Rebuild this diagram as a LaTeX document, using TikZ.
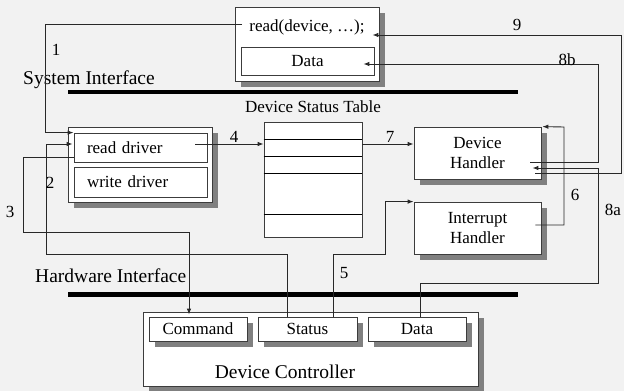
\documentclass[tikz,border=0pt]{standalone}
\usepackage{fontspec}
\setmainfont{Liberation Serif}
\usetikzlibrary{calc,scopes,shadows,arrows.meta}

\definecolor{paper}{RGB}{242,242,242}
\definecolor{edge}{RGB}{60,60,60}
\definecolor{wire}{RGB}{40,40,40}
\definecolor{shade}{RGB}{128,128,128}

\begin{document}
\begin{tikzpicture}[x=1pt,y=-1pt,
  box/.style={rectangle,draw=edge,fill=white,line width=0.8pt,inner sep=0pt,
    font=\fontsize{17}{20}\selectfont,align=center},
  shd/.style={drop shadow={shadow xshift=6pt,shadow yshift=-6pt,fill=shade,opacity=1}},
  txt/.style={font=\fontsize{17}{20}\selectfont,inner sep=0pt},
  big/.style={font=\fontsize{19.5}{22}\selectfont,inner sep=0pt},
  flow/.style={draw=wire,line width=0.9pt,>={Latex[length=6pt,width=4.5pt]}},
  bus/.style={line width=4.5pt}]
    \useasboundingbox (0,0) rectangle (624,391);
    \fill[paper] (0,0) rectangle (624,391);

    % user process
    \node[box,shd,minimum width=144pt,minimum height=74pt] (readcall) at (307,44) {};
    \node[txt] (readtxt) at (307,27) {read(device, …);};
    \node[box,minimum width=133pt,minimum height=28pt] (userdata) at (307.5,61) {Data};

    % interfaces
    \node[big,anchor=west] (sysif) at (23,80) {System Interface};
    \draw[bus] (68,92) -- (518,92);
    \node[big,anchor=west] (hwif) at (35,276) {Hardware Interface};
    \draw[bus] (68,294.5) -- (518,294.5);

    % drivers
    \node[box,shd,minimum width=144pt,minimum height=75pt] (drivers) at (140,164.5) {};
    \node[box,minimum width=133pt,minimum height=29pt,text width=107pt,align=left] (readdrv) at (140.5,147.5) {read driver};
    \node[box,minimum width=133pt,minimum height=30pt,text width=107pt,align=left] (writedrv) at (140.5,182) {write driver};

    % status table
    \node[txt] (tablelbl) at (313,107) {Device Status Table};
    \node[box,minimum width=98pt,minimum height=115pt] (table) at (313,179.5) {};
    \foreach \ty in {139,156,173,214}
        \draw[line width=0.9pt] (table.west |- 0,\ty) -- (table.east |- 0,\ty);

    % handlers
    \node[box,shd,minimum width=127pt,minimum height=52pt] (devhandler) at (477.5,153) {Device\\Handler};
    \node[box,shd,minimum width=127pt,minimum height=52pt] (inthandler) at (477.5,228) {Interrupt\\Handler};

    % controller
    \node[box,shd,minimum width=335pt,minimum height=74pt] (controller) at (310.5,349) {};
    \node[big] (ctrllbl) at (285,372) {Device Controller};
    \node[box,shd,minimum width=98pt,minimum height=24pt] (command) at (198,329) {Command};
    \node[box,shd,minimum width=99pt,minimum height=24pt] (status) at (307.5,329) {Status};
    \node[box,shd,minimum width=98pt,minimum height=24pt] (ctrldata) at (417,329) {Data};

    % connectors
    \coordinate (drvout) at ($(readdrv.east)+(-12,-3.5)$);
    {[flow,->]
    \draw ($(readtxt.west)+(-7,-3)$) -| ($(readdrv.north west)+(-28,0)$) -- (readdrv.north west);
    \draw ($(status.north)+(-20.5,0)$) |- (46,254) |- ($(readdrv.west)+(-1,-3.5)$);
    \draw ($(readdrv.west)+(0,9.5)$) -| (23,232) -| ($(command.north)+(-9,-2)$);
    \draw (drvout) -- (drvout -| table.west);
    \draw ($(status.north)+(25.5,0)$) |- (385,254) |- (inthandler.north west);
    \draw ($(inthandler.east)+(-6,-3)$) -| (564,127) -- ($(devhandler.north east)+(1,0)$);
    \draw (drvout -| table.east) -- (drvout -| devhandler.west);
    \draw ($(ctrldata.north)+(3,0)$) |- (598,283) |- ($(devhandler.east)+(-9,15)$);
    \draw ($(devhandler.east)+(-11,9)$) -| (598,64) -- ($(userdata.east)+(-11,3)$);
    \draw ($(devhandler.east)+(-6,20)$) -| (621,35) -- ($(readcall.east)+(-7,-9)$);
    }

    % step numbers
    \node[txt] (n1) at (56,50) {1};
    \node[txt] (n2) at (50,183) {2};
    \node[txt] (n3) at (10,212) {3};
    \node[txt] (n4) at (234,137) {4};
    \node[txt] (n5) at (344,273) {5};
    \node[txt] (n6) at (575,195) {6};
    \node[txt] (n7) at (390,137) {7};
    \node[txt] (n8a) at (613,210) {8a};
    \node[txt] (n8b) at (567,60) {8b};
    \node[txt] (n9) at (517,25) {9};
\end{tikzpicture}
\end{document}
